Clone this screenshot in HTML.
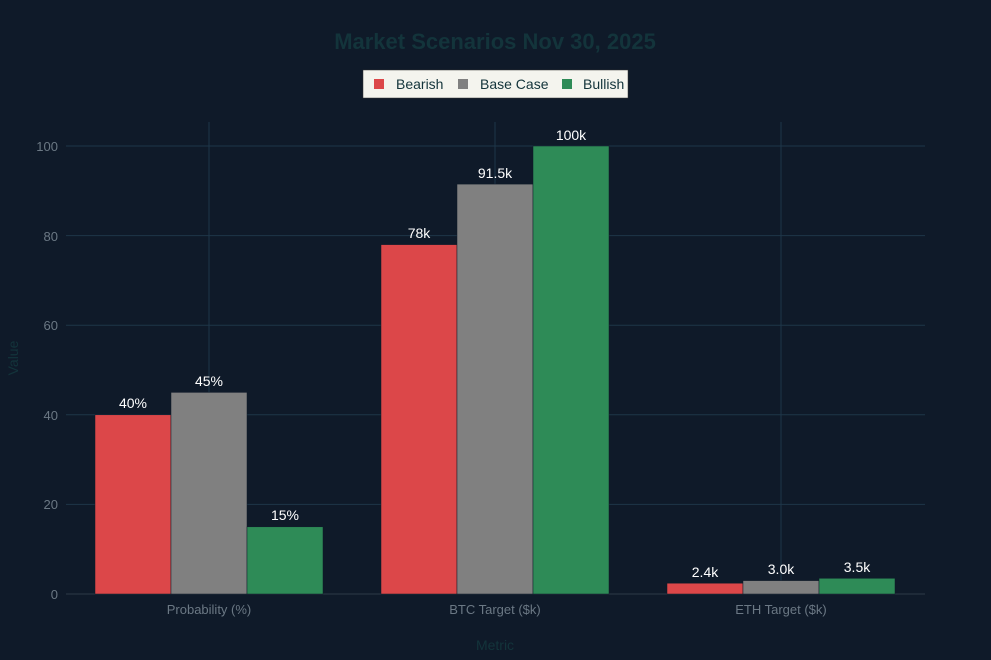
<!DOCTYPE html>
<html><head><meta charset="utf-8"><style>html,body{margin:0;padding:0;background:#0f1a29;}svg{display:block}text{font-family:"Liberation Sans",sans-serif}</style></head>
<body>
<svg width="991" height="660" viewBox="0 0 991 660" xmlns="http://www.w3.org/2000/svg">
<rect width="991" height="660" fill="#0f1a29"/>
<g stroke="#1e3649" stroke-width="1">
<line x1="66" x2="925" y1="504.4" y2="504.4"/>
<line x1="66" x2="925" y1="414.8" y2="414.8"/>
<line x1="66" x2="925" y1="325.2" y2="325.2"/>
<line x1="66" x2="925" y1="235.6" y2="235.6"/>
<line x1="66" x2="925" y1="146" y2="146"/>
<line x1="209" x2="209" y1="122" y2="594"/>
<line x1="495" x2="495" y1="122" y2="594"/>
<line x1="781" x2="781" y1="122" y2="594"/>
</g>
<line x1="66" x2="925" y1="594" y2="594" stroke="#2e3a46"/>
<g fill="#6b7884" font-size="13" text-anchor="end">
<text x="58" y="599">0</text><text x="58" y="509">20</text><text x="58" y="420">40</text><text x="58" y="330">60</text><text x="58" y="241">80</text><text x="58" y="151">100</text>
</g>
<g fill="#6b7884" font-size="13" text-anchor="middle">
<text x="209" y="614">Probability (%)</text><text x="495" y="614">BTC Target ($k)</text><text x="781" y="614">ETH Target ($k)</text>
</g>
<text x="495" y="650" fill="#13343b" font-size="14" text-anchor="middle">Metric</text>
<text transform="translate(18,358) rotate(-90)" fill="#13343b" font-size="14" text-anchor="middle">Value</text>
<text x="495" y="49" fill="#13343b" font-size="22" font-weight="bold" text-anchor="middle">Market Scenarios Nov 30, 2025</text>
<rect x="363" y="70" width="265" height="28" fill="#f4f4ee" stroke="#333" stroke-width="0.5"/>
<rect x="374" y="79" width="10" height="10" fill="#dc4749"/><text x="396" y="89" font-size="14" fill="#13343b">Bearish</text>
<rect x="458" y="79" width="10" height="10" fill="#808080"/><text x="480" y="89" font-size="14" fill="#13343b">Base Case</text>
<rect x="562" y="79" width="10" height="10" fill="#2e8b57"/><text x="583" y="89" font-size="14" fill="#13343b">Bullish</text>
<g stroke="#0f1a29" stroke-width="0.5">
<rect x="95" y="414.8" width="76" height="179.2" fill="#dc4749"/>
<rect x="171" y="392.4" width="76" height="201.6" fill="#808080"/>
<rect x="247" y="526.8" width="76" height="67.2" fill="#2e8b57"/>
<rect x="381" y="244.6" width="76" height="349.4" fill="#dc4749"/>
<rect x="457" y="184.1" width="76" height="409.9" fill="#808080"/>
<rect x="533" y="146" width="76" height="448" fill="#2e8b57"/>
<rect x="667" y="583.2" width="76" height="10.8" fill="#dc4749"/>
<rect x="743" y="580.6" width="76" height="13.4" fill="#808080"/>
<rect x="819" y="578.3" width="76" height="15.7" fill="#2e8b57"/>
</g>
<g fill="#ffffff" font-size="14" text-anchor="middle">
<text x="133" y="408">40%</text><text x="209" y="386">45%</text><text x="285" y="520">15%</text>
<text x="419" y="238">78k</text><text x="495" y="178">91.5k</text><text x="571" y="140">100k</text>
<text x="705" y="577">2.4k</text><text x="781" y="574">3.0k</text><text x="857" y="572">3.5k</text>
</g>
</svg>
</body></html>
